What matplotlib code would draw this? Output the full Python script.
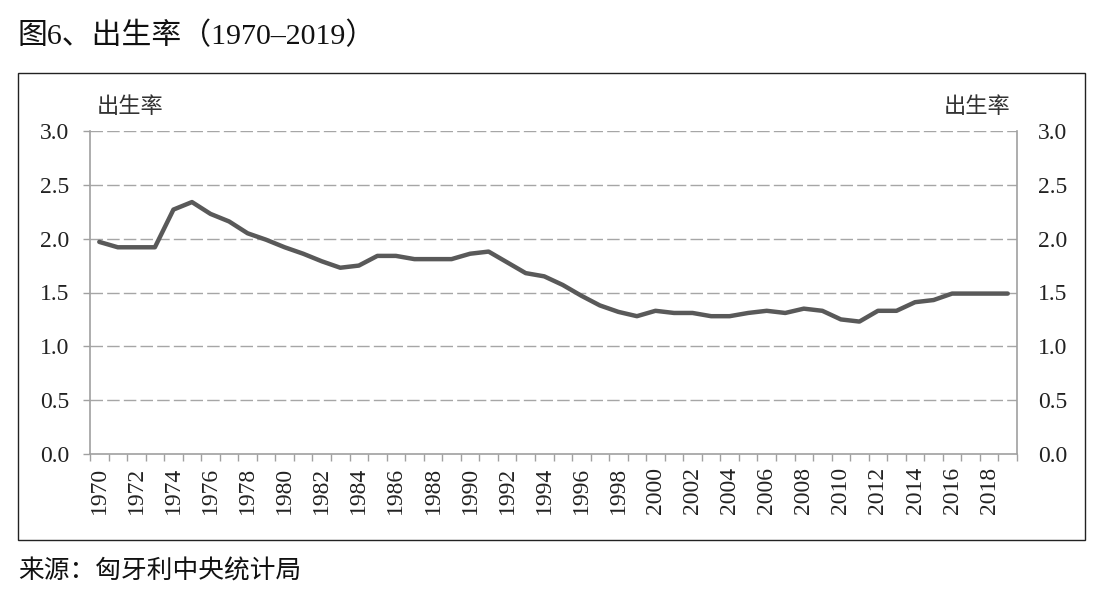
import numpy as np
import matplotlib
matplotlib.use("Agg")
import matplotlib.pyplot as plt
from matplotlib.patches import Rectangle
from matplotlib.ticker import FixedLocator

years = list(range(1970, 2020))
birth_rate = [1.97, 1.92, 1.92, 1.92, 2.27, 2.34, 2.23, 2.16, 2.05, 1.99,
              1.92, 1.86, 1.79, 1.73, 1.75, 1.84, 1.84, 1.81, 1.81, 1.81,
              1.86, 1.88, 1.78, 1.68, 1.65, 1.57, 1.47, 1.38, 1.32, 1.28,
              1.33, 1.31, 1.31, 1.28, 1.28, 1.31, 1.33, 1.31, 1.35, 1.33,
              1.25, 1.23, 1.33, 1.33, 1.41, 1.43, 1.49, 1.49, 1.49, 1.49]
y_ticks = [0.0, 0.5, 1.0, 1.5, 2.0, 2.5, 3.0]

title = "图6、出生率（1970–2019）"
source = "来源：匈牙利中央统计局"
axis_name = "出生率"

fam = ["Liberation Serif", "Noto Sans CJK SC"]
plt.rcParams["font.family"] = fam

fig = plt.figure(figsize=(10.99, 6.04), dpi=100)
ax = fig.add_axes([90 / 1099, 1 - 454 / 604, 927 / 1099, 323 / 604])

x = np.arange(len(years))
ax.plot(x, birth_rate, color="#595959", lw=3.2, solid_joinstyle="round", solid_capstyle="round")

ax.set_xlim(-0.5, len(years) - 0.5)
ax.set_ylim(0, 3.0)

ax.set_xticks(x[::2])
ax.set_xticklabels([str(y) for y in years[::2]], rotation=90, fontsize=17, color="#222222")
ax.tick_params(axis="x", which="major", length=0, pad=9)
ax.xaxis.set_minor_locator(FixedLocator(np.arange(-0.5, len(years), 1.0)))
ax.tick_params(axis="x", which="minor", length=5, color="#a0a0a0", width=1)

ax.set_yticks(y_ticks)
ax.set_yticklabels([f"{v:.1f}" for v in y_ticks], fontsize=17, color="#222222")
ax.tick_params(axis="y", length=5, color="#a0a0a0", width=1, pad=10,
               labelright=True, right=False)

for v in y_ticks[1:]:
    ax.axhline(v, color="#a6a6a6", lw=1, ls=(0, (9, 3)), zorder=0)

ax.spines["top"].set_visible(False)
for s in ["left", "right", "bottom"]:
    ax.spines[s].set_color("#a0a0a0")
    ax.spines[s].set_linewidth(1.2)

ax.text(0.007, 1.072, axis_name, transform=ax.transAxes, fontsize=16,
        ha="left", va="center", color="#333333")
ax.text(0.993, 1.072, axis_name, transform=ax.transAxes, fontsize=16,
        ha="right", va="center", color="#333333")

fig.patches.append(Rectangle((18 / 1099, 1 - 540 / 604), 1067 / 1099, 467 / 604,
                             transform=fig.transFigure, fill=False, ec="#222222", lw=1))

fig.text(18 / 1099, 1 - 36 / 604, title, fontsize=21.5, ha="left", va="center", color="#111111")
fig.text(18 / 1099, 1 - 572 / 604, source, fontsize=18.5, ha="left", va="center", color="#111111")

fig.savefig("out.png", dpi=100)
